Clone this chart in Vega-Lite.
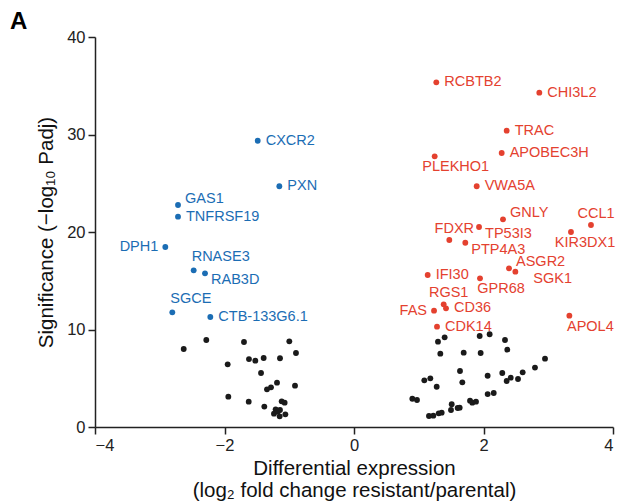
{
  "$schema": "https://vega.github.io/schema/vega-lite/v6.json",
  "width": 518,
  "height": 390,
  "autosize": {"type": "none"},
  "padding": {"left": 95, "top": 37, "right": 6, "bottom": 77},
  "background": "white",
  "title": {"text": "A", "anchor": "start", "frame": "group", "font": "Liberation Sans", "fontSize": 24, "fontWeight": "bold", "color": "#000", "dx": -85, "dy": 15, "offset": 10},
  "config": {
    "view": {"stroke": null},
    "font": "Liberation Sans",
    "axis": {"grid": false, "domainColor": "#222", "domainWidth": 1.5, "tickColor": "#222", "tickWidth": 1.5, "tickSize": 7, "labelFont": "Liberation Sans", "labelFontSize": 16.5, "labelColor": "#222", "labelPadding": 3, "titleFont": "Liberation Sans", "titleFontSize": 20.5, "titleFontWeight": "normal", "titleColor": "#111"}
  },
  "data": {"values": [
    {"gene": "CXCR2", "log2fc": -1.487, "sig": 29.36, "group": "down"},
    {"gene": "PXN", "log2fc": -1.153, "sig": 24.69, "group": "down"},
    {"gene": "GAS1", "log2fc": -2.718, "sig": 22.77, "group": "down"},
    {"gene": "TNFRSF19", "log2fc": -2.718, "sig": 21.57, "group": "down"},
    {"gene": "DPH1", "log2fc": -2.914, "sig": 18.46, "group": "down"},
    {"gene": "RNASE3", "log2fc": -2.476, "sig": 16.07, "group": "down"},
    {"gene": "RAB3D", "log2fc": -2.301, "sig": 15.76, "group": "down"},
    {"gene": "SGCE", "log2fc": -2.806, "sig": 11.76, "group": "down"},
    {"gene": "CTB-133G6.1", "log2fc": -2.219, "sig": 11.28, "group": "down"},
    {"gene": "RCBTB2", "log2fc": 1.271, "sig": 35.35, "group": "up"},
    {"gene": "CHI3L2", "log2fc": 2.862, "sig": 34.29, "group": "up"},
    {"gene": "TRAC", "log2fc": 2.358, "sig": 30.39, "group": "up"},
    {"gene": "APOBEC3H", "log2fc": 2.281, "sig": 28.1, "group": "up"},
    {"gene": "PLEKHO1", "log2fc": 1.246, "sig": 27.76, "group": "up"},
    {"gene": "VWA5A", "log2fc": 1.895, "sig": 24.69, "group": "up"},
    {"gene": "GNLY", "log2fc": 2.301, "sig": 21.3, "group": "up"},
    {"gene": "CCL1", "log2fc": 3.66, "sig": 20.72, "group": "up"},
    {"gene": "KIR3DX1", "log2fc": 3.351, "sig": 20.0, "group": "up"},
    {"gene": "FDXR", "log2fc": 1.472, "sig": 19.18, "group": "up"},
    {"gene": "TP53I3", "log2fc": 1.931, "sig": 20.51, "group": "up"},
    {"gene": "PTP4A3", "log2fc": 1.719, "sig": 18.9, "group": "up"},
    {"gene": "ASGR2", "log2fc": 2.394, "sig": 16.27, "group": "up"},
    {"gene": "SGK1", "log2fc": 2.492, "sig": 15.93, "group": "up"},
    {"gene": "IFI30", "log2fc": 1.138, "sig": 15.59, "group": "up"},
    {"gene": "GPR68", "log2fc": 1.946, "sig": 15.25, "group": "up"},
    {"gene": "RGS1", "log2fc": 1.385, "sig": 12.58, "group": "up"},
    {"gene": "CD36", "log2fc": 1.421, "sig": 12.17, "group": "up"},
    {"gene": "FAS", "log2fc": 1.236, "sig": 11.93, "group": "up"},
    {"gene": "APOL4", "log2fc": 3.326, "sig": 11.42, "group": "up"},
    {"gene": "CDK14", "log2fc": 1.282, "sig": 10.29, "group": "up"},
    {"gene": "", "log2fc": -2.63, "sig": 8.0, "group": "ns"},
    {"gene": "", "log2fc": -2.281, "sig": 8.92, "group": "ns"},
    {"gene": "", "log2fc": -1.699, "sig": 8.72, "group": "ns"},
    {"gene": "", "log2fc": -0.999, "sig": 8.79, "group": "ns"},
    {"gene": "", "log2fc": -0.896, "sig": 7.59, "group": "ns"},
    {"gene": "", "log2fc": -1.951, "sig": 6.43, "group": "ns"},
    {"gene": "", "log2fc": -1.622, "sig": 6.97, "group": "ns"},
    {"gene": "", "log2fc": -1.524, "sig": 6.8, "group": "ns"},
    {"gene": "", "log2fc": -1.395, "sig": 7.08, "group": "ns"},
    {"gene": "", "log2fc": -1.143, "sig": 7.05, "group": "ns"},
    {"gene": "", "log2fc": -1.436, "sig": 5.54, "group": "ns"},
    {"gene": "", "log2fc": -1.189, "sig": 4.55, "group": "ns"},
    {"gene": "", "log2fc": -1.282, "sig": 4.07, "group": "ns"},
    {"gene": "", "log2fc": -1.344, "sig": 3.86, "group": "ns"},
    {"gene": "", "log2fc": -0.911, "sig": 4.24, "group": "ns"},
    {"gene": "", "log2fc": -1.941, "sig": 3.11, "group": "ns"},
    {"gene": "", "log2fc": -1.626, "sig": 2.6, "group": "ns"},
    {"gene": "", "log2fc": -1.385, "sig": 2.09, "group": "ns"},
    {"gene": "", "log2fc": -1.117, "sig": 2.63, "group": "ns"},
    {"gene": "", "log2fc": -1.071, "sig": 2.5, "group": "ns"},
    {"gene": "", "log2fc": -1.21, "sig": 1.81, "group": "ns"},
    {"gene": "", "log2fc": -1.143, "sig": 1.74, "group": "ns"},
    {"gene": "", "log2fc": -1.236, "sig": 1.37, "group": "ns"},
    {"gene": "", "log2fc": -1.148, "sig": 1.09, "group": "ns"},
    {"gene": "", "log2fc": -1.06, "sig": 1.3, "group": "ns"},
    {"gene": "", "log2fc": -1.179, "sig": 1.57, "group": "ns"},
    {"gene": "", "log2fc": 1.297, "sig": 8.75, "group": "ns"},
    {"gene": "", "log2fc": 1.4, "sig": 9.2, "group": "ns"},
    {"gene": "", "log2fc": 1.941, "sig": 9.33, "group": "ns"},
    {"gene": "", "log2fc": 2.095, "sig": 9.51, "group": "ns"},
    {"gene": "", "log2fc": 2.332, "sig": 8.92, "group": "ns"},
    {"gene": "", "log2fc": 2.368, "sig": 7.93, "group": "ns"},
    {"gene": "", "log2fc": 1.333, "sig": 7.52, "group": "ns"},
    {"gene": "", "log2fc": 1.694, "sig": 7.62, "group": "ns"},
    {"gene": "", "log2fc": 1.956, "sig": 7.59, "group": "ns"},
    {"gene": "", "log2fc": 2.95, "sig": 7.01, "group": "ns"},
    {"gene": "", "log2fc": 2.795, "sig": 6.09, "group": "ns"},
    {"gene": "", "log2fc": 2.605, "sig": 5.61, "group": "ns"},
    {"gene": "", "log2fc": 2.29, "sig": 5.54, "group": "ns"},
    {"gene": "", "log2fc": 2.42, "sig": 5.06, "group": "ns"},
    {"gene": "", "log2fc": 2.358, "sig": 4.72, "group": "ns"},
    {"gene": "", "log2fc": 2.533, "sig": 4.92, "group": "ns"},
    {"gene": "", "log2fc": 2.064, "sig": 5.26, "group": "ns"},
    {"gene": "", "log2fc": 1.637, "sig": 5.74, "group": "ns"},
    {"gene": "", "log2fc": 1.673, "sig": 4.58, "group": "ns"},
    {"gene": "", "log2fc": 1.086, "sig": 4.79, "group": "ns"},
    {"gene": "", "log2fc": 1.179, "sig": 4.99, "group": "ns"},
    {"gene": "", "log2fc": 1.277, "sig": 4.13, "group": "ns"},
    {"gene": "", "log2fc": 0.901, "sig": 2.9, "group": "ns"},
    {"gene": "", "log2fc": 0.973, "sig": 2.77, "group": "ns"},
    {"gene": "", "log2fc": 1.509, "sig": 2.33, "group": "ns"},
    {"gene": "", "log2fc": 1.498, "sig": 1.74, "group": "ns"},
    {"gene": "", "log2fc": 1.601, "sig": 1.95, "group": "ns"},
    {"gene": "", "log2fc": 1.632, "sig": 1.98, "group": "ns"},
    {"gene": "", "log2fc": 1.792, "sig": 2.7, "group": "ns"},
    {"gene": "", "log2fc": 1.827, "sig": 2.5, "group": "ns"},
    {"gene": "", "log2fc": 1.884, "sig": 2.6, "group": "ns"},
    {"gene": "", "log2fc": 2.064, "sig": 3.38, "group": "ns"},
    {"gene": "", "log2fc": 2.158, "sig": 3.49, "group": "ns"},
    {"gene": "", "log2fc": 1.158, "sig": 1.13, "group": "ns"},
    {"gene": "", "log2fc": 1.225, "sig": 1.16, "group": "ns"},
    {"gene": "", "log2fc": 1.308, "sig": 1.4, "group": "ns"},
    {"gene": "", "log2fc": 1.354, "sig": 1.47, "group": "ns"}
  ]},
  "encoding": {
    "x": {"field": "log2fc", "type": "quantitative", "scale": {"domain": [-4, 4], "nice": false},
      "axis": {"values": [-4, -2, 0, 2, 4], "title": ["Differential expression", "(log₂ fold change resistant/parental)"], "titlePadding": 5, "titleLineHeight": 22}},
    "y": {"field": "sig", "type": "quantitative", "scale": {"domain": [0, 40], "nice": false},
      "axis": {"values": [0, 10, 20, 30, 40], "title": "Significance (−log₁₀ Padj)", "titlePadding": 10}},
    "color": {"field": "group", "type": "nominal", "legend": null,
      "scale": {"domain": ["down", "up", "ns"], "range": ["#1b6db4", "#e4412f", "#1a1a1a"]}}
  },
  "layer": [
    {"data": {"values": [{}]}, "mark": {"type": "rule", "strokeDash": [4, 3], "color": "#333", "strokeWidth": 1.5},
      "encoding": {"x": {"datum": 0}, "y": null, "color": null}},
    {"mark": {"type": "circle", "size": 34, "opacity": 1}},
    {"transform": [{"filter": {"field": "gene", "oneOf": ["CXCR2", "PXN", "TNFRSF19", "CTB-133G6.1", "RCBTB2", "CHI3L2", "TRAC", "APOBEC3H", "VWA5A", "IFI30", "CD36", "CDK14"]}}],
      "mark": {"type": "text", "align": "left", "baseline": "middle", "dx": 8, "dy": 0, "fontSize": 14.5},
      "encoding": {"text": {"field": "gene"}}},
    {"transform": [{"filter": {"field": "gene", "oneOf": ["DPH1", "FAS"]}}],
      "mark": {"type": "text", "align": "right", "baseline": "middle", "dx": -7, "dy": 0, "fontSize": 14.5},
      "encoding": {"text": {"field": "gene"}}},
    {"transform": [{"filter": {"field": "gene", "oneOf": ["GAS1", "GNLY", "ASGR2"]}}],
      "mark": {"type": "text", "align": "left", "baseline": "middle", "dx": 7, "dy": -6, "fontSize": 14.5},
      "encoding": {"text": {"field": "gene"}}},
    {"transform": [{"filter": {"field": "gene", "oneOf": ["TP53I3", "PTP4A3", "RAB3D"]}}],
      "mark": {"type": "text", "align": "left", "baseline": "middle", "dx": 6, "dy": 7, "fontSize": 14.5},
      "encoding": {"text": {"field": "gene"}}},
    {"transform": [{"filter": {"field": "gene", "oneOf": ["RNASE3", "SGCE"]}}],
      "mark": {"type": "text", "align": "left", "baseline": "middle", "dx": -2, "dy": -13, "fontSize": 14.5},
      "encoding": {"text": {"field": "gene"}}},
    {"transform": [{"filter": {"field": "gene", "oneOf": ["CCL1", "FDXR", "RGS1"]}}],
      "mark": {"type": "text", "align": "center", "baseline": "middle", "dx": 5, "dy": -11, "fontSize": 14.5},
      "encoding": {"text": {"field": "gene"}}},
    {"transform": [{"filter": {"field": "gene", "oneOf": ["PLEKHO1", "APOL4", "GPR68"]}}],
      "mark": {"type": "text", "align": "center", "baseline": "middle", "dx": 21, "dy": 11, "fontSize": 14.5},
      "encoding": {"text": {"field": "gene"}}},
    {"transform": [{"filter": {"field": "gene", "oneOf": ["KIR3DX1"]}}],
      "mark": {"type": "text", "align": "center", "baseline": "middle", "dx": 14, "dy": 11, "fontSize": 14.5},
      "encoding": {"text": {"field": "gene"}}},
    {"transform": [{"filter": {"field": "gene", "oneOf": ["SGK1"]}}],
      "mark": {"type": "text", "align": "left", "baseline": "middle", "dx": 18, "dy": 7, "fontSize": 14.5},
      "encoding": {"text": {"field": "gene"}}}
  ]
}
